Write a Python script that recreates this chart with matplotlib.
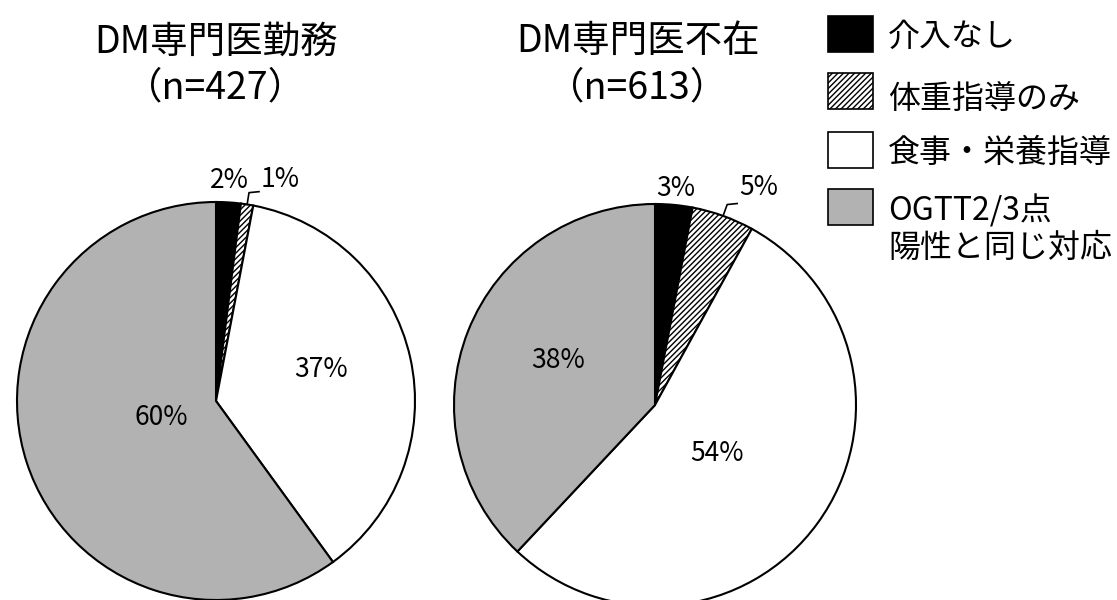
import matplotlib.pyplot as plt
import numpy as np

plt.rcParams['font.family'] = ['Noto Sans CJK JP', 'DejaVu Sans']

# カテゴリと割合
categories = ['介入なし', '体重指導のみ', '食事・栄養指導', 'OGTT2/3点\n陽性と同じ対応']
titles = ['DM専門医勤務\n（n=427）', 'DM専門医不在\n（n=613）']
share_kinmu = [2, 1, 37, 60]
share_fuzai = [3, 5, 54, 38]

colors = ['black', 'white', 'white', '#b2b2b2']
hatches = [None, '//////', None, None]

# ラベル位置 (半径比, 角度ずれ)
label_pos_kinmu = [(1.11, 0), (1.16, -7), (0.55, 4), (0.29, -1)]
label_pos_fuzai = [(1.08, 0), (1.19, -5), (0.39, -2), (0.53, -3)]

fig = plt.figure(figsize=(11.17, 6), dpi=100)
ax = fig.add_axes([0, 0, 1, 1])


def draw_pie(ax, values, center, radius, label_pos, title, title_x):
    wedges, _ = ax.pie(values, colors=colors, startangle=90, counterclock=False,
                       center=center, radius=radius, frame=True,
                       wedgeprops=dict(edgecolor='black', linewidth=1.5))
    for w, h in zip(wedges, hatches):
        if h:
            w.set_hatch(h)
    cx, cy = center
    for i, (w, v) in enumerate(zip(wedges, values)):
        mid = np.deg2rad((w.theta1 + w.theta2) / 2)
        fac, off = label_pos[i]
        a = mid + np.deg2rad(off)
        tx = cx + radius * fac * np.cos(a)
        ty = cy + radius * fac * np.sin(a)
        if i == 1:
            # 引き出し線
            x0, y0 = cx + radius * np.cos(mid), cy + radius * np.sin(mid)
            x1, y1 = cx + radius * 1.06 * np.cos(mid), cy + radius * 1.06 * np.sin(mid)
            ax.plot([x0, x1, x1 + 10], [y0, y1, y1 + 1], color='black', lw=1.2)
            ax.text(x1 + 12, ty, f'{v}%', fontsize=19, ha='left', va='center')
        else:
            ax.text(tx, ty, f'{v}%', fontsize=19, ha='center', va='center')
    ax.text(title_x, 535, title, fontsize=27, ha='center', va='center', linespacing=1.25)


draw_pie(ax, share_kinmu, (216, 199), 199, label_pos_kinmu, titles[0], 216)
draw_pie(ax, share_fuzai, (655, 195), 201, label_pos_fuzai, titles[1], 638)

# 凡例
leg_text_y = [563, 500, 447, 371]
leg_box_y = [566, 509, 450, 393]
for c, h, lab, ty, by in zip(colors, hatches, categories, leg_text_y, leg_box_y):
    ax.add_patch(plt.Rectangle((828, by - 18), 45, 36, facecolor=c, hatch=h,
                               edgecolor='black', linewidth=1.2))
    ax.text(888, ty, lab, fontsize=23, ha='left', va='center', linespacing=1.2)

ax.set_xlim(0, 1117)
ax.set_ylim(0, 600)
ax.set_aspect('equal')
ax.axis('off')

fig.savefig('out.png', dpi=100)
